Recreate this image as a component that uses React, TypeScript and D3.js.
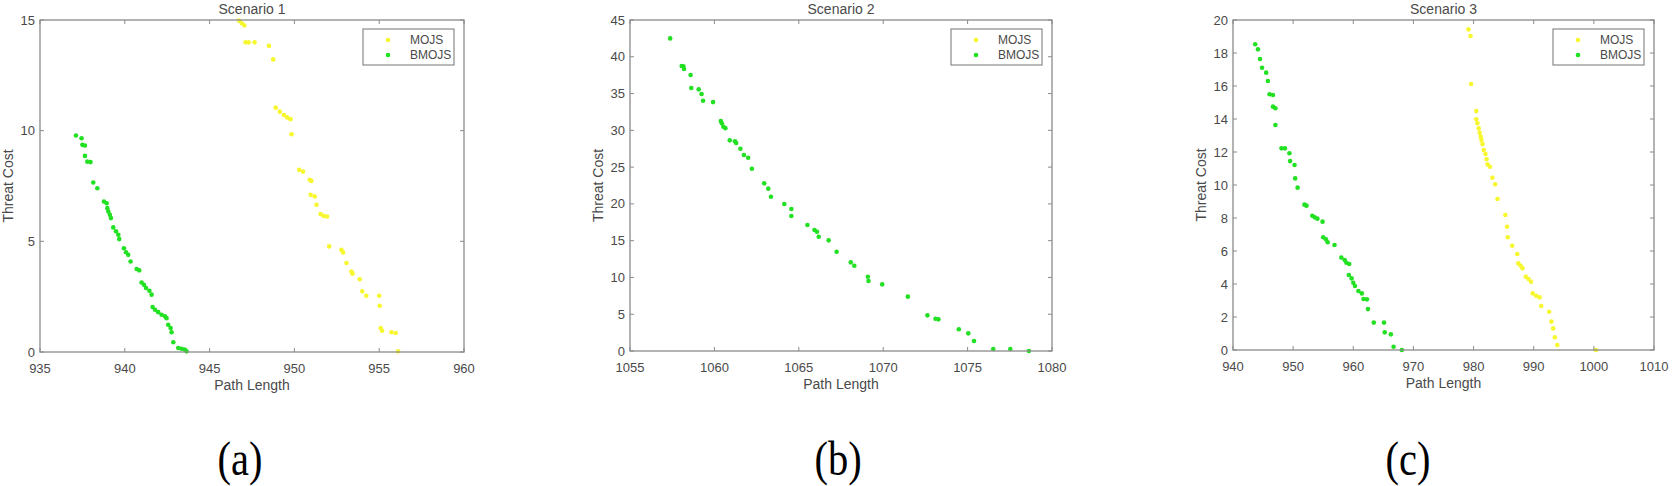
import React from "react";
import * as d3 from "d3";

// ---------- DATA ----------
const seriesNames = ["MOJS", "BMOJS"];
const panelTitles = ["Scenario 1", "Scenario 2", "Scenario 3"];
const panelLetters = ["(a)", "(b)", "(c)"];
const xLabel = "Path Length";
const yLabel = "Threat Cost";

const xDomains: [number, number][] = [[935, 960], [1055, 1080], [940, 1010]];
const yDomains: [number, number][] = [[0, 15], [0, 45], [0, 20]];
const xTicks1 = [935, 940, 945, 950, 955, 960];
const xTicks2 = [1055, 1060, 1065, 1070, 1075, 1080];
const xTicks3 = [940, 950, 960, 970, 980, 990, 1000, 1010];
const yTicks1 = [0, 5, 10, 15];
const yTicks2 = [0, 5, 10, 15, 20, 25, 30, 35, 40, 45];
const yTicks3 = [0, 2, 4, 6, 8, 10, 12, 14, 16, 18, 20];

const s1Mojs: [number, number][] = [
  [946.74, 14.97], [946.9, 14.85], [947.05, 14.75], [947.12, 13.99], [947.3, 13.99], [947.65, 13.99],
  [948.5, 13.83], [948.75, 13.22], [948.9, 11.04], [949.14, 10.86], [949.38, 10.71], [949.57, 10.6],
  [949.77, 10.52], [949.83, 9.84], [950.28, 8.23], [950.51, 8.15], [950.9, 7.78], [951.0, 7.73],
  [950.96, 7.1], [951.2, 7.03], [951.3, 6.65], [951.54, 6.23], [951.73, 6.15], [951.93, 6.12],
  [952.05, 4.77], [952.77, 4.62], [952.87, 4.5], [953.07, 4.02], [953.36, 3.64], [953.42, 3.54],
  [953.85, 3.29], [954.0, 2.74], [954.24, 2.54], [955.0, 2.54], [955.03, 2.09], [955.09, 1.08],
  [955.17, 0.96], [955.72, 0.89], [955.97, 0.86], [956.11, 0.03],
];
const s1Bmojs: [number, number][] = [
  [937.12, 9.78], [937.45, 9.66], [937.5, 9.36], [937.65, 9.33], [937.65, 8.86], [937.79, 8.6],
  [937.98, 8.58], [938.14, 7.66], [938.38, 7.4], [938.77, 6.8], [938.93, 6.72], [938.97, 6.5],
  [939.03, 6.35], [939.12, 6.2], [939.18, 6.05], [939.32, 5.63], [939.48, 5.45], [939.62, 5.3],
  [939.67, 5.1], [939.95, 4.69], [940.07, 4.51], [940.2, 4.39], [940.34, 4.09], [940.7, 3.75],
  [940.85, 3.69], [940.99, 3.14], [941.13, 3.04], [941.25, 2.89], [941.45, 2.77], [941.58, 2.59],
  [941.64, 2.03], [941.78, 1.91], [941.97, 1.8], [942.17, 1.68], [942.37, 1.61], [942.46, 1.53],
  [942.56, 1.23], [942.7, 1.08], [942.76, 0.89], [942.86, 0.44], [943.15, 0.18], [943.35, 0.15],
  [943.54, 0.11], [943.64, 0.03],
];
const s2Mojs: [number, number][] = [];
const s2Bmojs: [number, number][] = [
  [1057.38, 42.5], [1058.06, 38.74], [1058.16, 38.7], [1058.2, 38.33], [1058.59, 37.52],
  [1058.63, 35.75], [1059.07, 35.57], [1059.24, 34.93], [1059.33, 34.02], [1059.92, 33.84],
  [1060.38, 31.26], [1060.44, 30.95], [1060.53, 30.49], [1060.65, 30.3], [1060.91, 28.64],
  [1061.22, 28.5], [1061.29, 28.27], [1061.54, 27.5], [1061.75, 26.64], [1062.0, 26.28],
  [1062.22, 24.78], [1062.95, 22.79], [1063.19, 22.07], [1063.35, 20.98], [1064.14, 19.98],
  [1064.56, 19.3], [1064.56, 18.35], [1065.51, 17.13], [1065.93, 16.45], [1066.08, 16.22],
  [1066.18, 15.54], [1066.77, 15.04], [1067.24, 13.5], [1068.08, 12.05], [1068.29, 11.6],
  [1069.09, 10.1], [1069.13, 9.51], [1069.94, 9.06], [1071.46, 7.39], [1072.62, 4.85],
  [1073.1, 4.39], [1073.27, 4.3], [1074.48, 2.95], [1075.04, 2.4], [1075.38, 1.36],
  [1076.52, 0.27], [1077.53, 0.27], [1078.63, 0.0],
];
const s3Mojs: [number, number][] = [
  [979.15, 19.43], [979.49, 19.03], [979.6, 16.12], [980.45, 14.48], [980.45, 13.98], [980.63, 13.74],
  [980.85, 13.43], [981.02, 13.17], [981.19, 12.93], [981.31, 12.73], [981.48, 12.48], [981.7, 12.12],
  [981.99, 11.88], [982.16, 11.56], [982.33, 11.25], [982.73, 11.11], [983.13, 10.44], [983.58, 10.04],
  [983.98, 9.15], [985.28, 8.18], [985.57, 7.47], [985.68, 6.83], [986.42, 6.32], [987.27, 5.82],
  [987.44, 5.25], [987.84, 5.11], [988.13, 4.95], [988.69, 4.44], [989.15, 4.3], [989.55, 4.14],
  [989.83, 3.43], [990.4, 3.29], [990.97, 3.19], [991.25, 2.67], [992.56, 2.32], [992.95, 1.72],
  [993.24, 1.31], [993.52, 0.77], [993.92, 0.3], [1000.34, 0.0],
];
const s3Bmojs: [number, number][] = [
  [943.69, 18.53], [944.15, 18.22], [944.49, 17.64], [944.83, 17.11], [945.51, 16.81], [945.8, 16.3],
  [946.08, 15.5], [946.65, 15.45], [946.65, 14.75], [947.05, 14.65], [947.05, 13.64], [948.07, 12.22],
  [948.64, 12.22], [949.38, 11.92], [949.49, 11.45], [950.23, 11.21], [950.34, 10.4], [950.74, 9.84],
  [951.88, 8.81], [952.22, 8.75], [953.18, 8.14], [953.58, 8.04], [954.03, 7.96], [954.89, 7.78],
  [955.0, 6.83], [955.45, 6.71], [955.74, 6.53], [956.88, 6.36], [958.01, 5.6], [958.58, 5.45],
  [958.86, 5.29], [959.32, 5.21], [959.26, 4.55], [959.72, 4.34], [960.0, 4.08], [960.28, 3.88],
  [960.85, 3.58], [961.42, 3.43], [961.7, 3.09], [962.27, 3.07], [962.44, 2.48], [963.41, 1.66],
  [965.11, 1.66], [965.23, 1.07], [966.25, 0.95], [966.7, 0.2], [968.07, 0.0],
];

// ---------- LAYOUT / STYLE ----------
const W = 1675;
const H = 486;
const colors = ["#f7f730", "#22e022"];
const axisColor = "#8a8a8a";
const textColor = "#4a4a4a";
const sans = "'Liberation Sans', Arial, sans-serif";

const panels = [
  { left: 40, right: 464, top: 20, bottom: 352, letterX: 240, xTicks: xTicks1, yTicks: yTicks1, mojs: s1Mojs, bmojs: s1Bmojs },
  { left: 630, right: 1052, top: 20, bottom: 351, letterX: 838, xTicks: xTicks2, yTicks: yTicks2, mojs: s2Mojs, bmojs: s2Bmojs },
  { left: 1233, right: 1654, top: 20, bottom: 350, letterX: 1408, xTicks: xTicks3, yTicks: yTicks3, mojs: s3Mojs, bmojs: s3Bmojs },
];

function Panel({ i }: { i: number }) {
  const p = panels[i];
  const x = d3.scaleLinear().domain(xDomains[i]).range([p.left, p.right]);
  const y = d3.scaleLinear().domain(yDomains[i]).range([p.bottom, p.top]);
  const tl = 4;
  const cx = (p.left + p.right) / 2;
  const cy = (p.top + p.bottom) / 2;
  const lgW = 91;
  const lgH = 36;
  const lgX = p.right - 10 - lgW;
  const lgY = p.top + 9;
  const series = [p.mojs, p.bmojs];
  return (
    <g>
      {series.map((s, si) =>
        s.map((d, k) => (
          <circle key={`${si}-${k}`} cx={x(d[0])} cy={y(d[1])} r={2.3} fill={colors[si]} />
        ))
      )}
      <rect x={p.left} y={p.top} width={p.right - p.left} height={p.bottom - p.top} fill="none" stroke={axisColor} strokeWidth={1.3} />
      {p.xTicks.map((t) => (
        <g key={`xt${t}`}>
          <line x1={x(t)} x2={x(t)} y1={p.bottom} y2={p.bottom - tl} stroke={axisColor} />
          <line x1={x(t)} x2={x(t)} y1={p.top} y2={p.top + tl} stroke={axisColor} />
          <text x={x(t)} y={p.bottom + 21} textAnchor="middle" fontFamily={sans} fontSize={13} fill={textColor}>{t}</text>
        </g>
      ))}
      {p.yTicks.map((t) => (
        <g key={`yt${t}`}>
          <line x1={p.left} x2={p.left + tl} y1={y(t)} y2={y(t)} stroke={axisColor} />
          <line x1={p.right} x2={p.right - tl} y1={y(t)} y2={y(t)} stroke={axisColor} />
          <text x={p.left - 5} y={y(t)} dy="0.35em" textAnchor="end" fontFamily={sans} fontSize={13} fill={textColor}>{t}</text>
        </g>
      ))}
      <text x={cx} y={14} textAnchor="middle" fontFamily={sans} fontSize={14} fill={textColor}>{panelTitles[i]}</text>
      <text x={cx} y={p.bottom + 38} textAnchor="middle" fontFamily={sans} fontSize={14} fill={textColor}>{xLabel}</text>
      <text transform={`translate(${p.left - 27},${cy}) rotate(-90)`} textAnchor="middle" fontFamily={sans} fontSize={14} fill={textColor}>{yLabel}</text>
      <rect x={lgX} y={lgY} width={lgW} height={lgH} fill="#fff" stroke={axisColor} strokeWidth={1.2} />
      {seriesNames.map((n, si) => (
        <g key={n}>
          <circle cx={lgX + 25} cy={lgY + 11 + si * 15} r={2.3} fill={colors[si]} />
          <text x={lgX + 47} y={lgY + 15 + si * 15} fontFamily={sans} fontSize={12} fill={textColor}>{n}</text>
        </g>
      ))}
      <text transform={`translate(${p.letterX},475) scale(0.92,1.1)`} textAnchor="middle" fontFamily="'Liberation Serif', 'Times New Roman', serif" fontSize={44} fill="#000">{panelLetters[i]}</text>
    </g>
  );
}

export default function App() {
  return (
    <svg width={W} height={H} style={{ position: "absolute", left: 0, top: 0, background: "#fff" }}>
      <rect x={0} y={0} width={W} height={H} fill="#fff" />
      {panels.map((_, i) => (
        <Panel key={i} i={i} />
      ))}
    </svg>
  );
}
